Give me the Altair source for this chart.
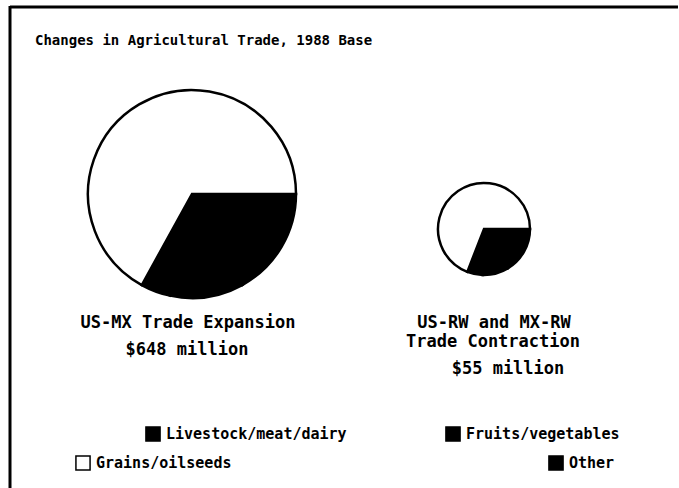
import altair as alt
import pandas as pd

# ---- data ($ million) ----
categories = ["Livestock/meat/dairy", "Fruits/vegetables", "Other", "Grains/oilseeds"]
expansion_values = [110, 74, 30, 434]      # US-MX Trade Expansion, $648 million
contraction_values = [9, 5, 3, 38]         # US-RW and MX-RW Trade Contraction, $55 million
category_colors = ["#000000", "#000000", "#000000", "#ffffff"]

title_text = "Changes in Agricultural Trade, 1988 Base"
pie1_labels = ["US-MX Trade Expansion", "$648 million"]
pie2_labels = ["US-RW and MX-RW", "Trade Contraction", "$55 million"]

# ---- layout ----
W, H = 679, 488
FONT = "DejaVu Sans Mono"

color_scale = alt.Scale(domain=categories, range=category_colors)
theta_scale = alt.Scale(range=[1.5708, 1.5708 + 6.28319])


def pie(values, cx, cy, r):
    df = pd.DataFrame({"category": categories, "value": values, "ord": list(range(len(categories)))})
    return alt.Chart(df).mark_arc(radius=r, stroke="#000000", strokeWidth=2.5).encode(
        theta=alt.Theta("value:Q", stack=True, scale=theta_scale),
        color=alt.Color("category:N", scale=color_scale, legend=None),
        order=alt.Order("ord:Q"),
        x=alt.value(cx),
        y=alt.value(cy),
    )


def text(lines, xs, ys, size, weight="bold", align="center"):
    df = pd.DataFrame({"t": lines, "px": xs, "py": ys})
    return alt.Chart(df).mark_text(
        font=FONT, fontSize=size, fontWeight=weight, align=align, baseline="middle", color="#000000"
    ).encode(
        x=alt.X("px:Q", scale=None, axis=None),
        y=alt.Y("py:Q", scale=None, axis=None),
        text="t:N",
    )


pie1 = pie(expansion_values, 192, 194, 104)
pie2 = pie(contraction_values, 484, 229, 46)

title = text([title_text], [35], [41], 14, weight="bold", align="left")
lab1 = text(pie1_labels, [188, 187], [323, 350], 17)
lab2 = text(pie2_labels, [494, 493, 508], [323, 342, 369], 17)

# legend layout
leg_sq_x = [153, 453, 556, 83]
leg_sq_y = [434, 434, 463, 463]
leg_df = pd.DataFrame({
    "category": categories,
    "sx": leg_sq_x,
    "sy": leg_sq_y,
    "tx": [x + 13 for x in leg_sq_x],
})
leg_sq = alt.Chart(leg_df).mark_square(size=200, stroke="#000000", strokeWidth=1.5, opacity=1).encode(
    x=alt.X("sx:Q", scale=None, axis=None),
    y=alt.Y("sy:Q", scale=None, axis=None),
    fill=alt.Fill("category:N", scale=color_scale, legend=None),
)
leg_tx = alt.Chart(leg_df).mark_text(
    font=FONT, fontSize=15, fontWeight="bold", align="left", baseline="middle", color="#000000"
).encode(
    x=alt.X("tx:Q", scale=None, axis=None),
    y=alt.Y("sy:Q", scale=None, axis=None),
    text="category:N",
)

# frame (left and top edges of the scanned box)
frame_left = alt.Chart(pd.DataFrame({"a": [0]})).mark_rule(color="#000000", strokeWidth=3).encode(
    x=alt.value(10), y=alt.value(6), y2=alt.value(H)
)
frame_top = alt.Chart(pd.DataFrame({"a": [0]})).mark_rule(color="#000000", strokeWidth=3).encode(
    x=alt.value(10), x2=alt.value(W - 1), y=alt.value(7)
)

chart = alt.layer(
    frame_left, frame_top, pie1, pie2, title, lab1, lab2, leg_sq, leg_tx
).resolve_scale(theta="independent").properties(
    width=W, height=H, padding=0, autosize=alt.AutoSizeParams(type="none"), background="#ffffff"
).configure_view(stroke=None)

chart.save("out.html", embed_options={"renderer": "svg", "actions": False})
